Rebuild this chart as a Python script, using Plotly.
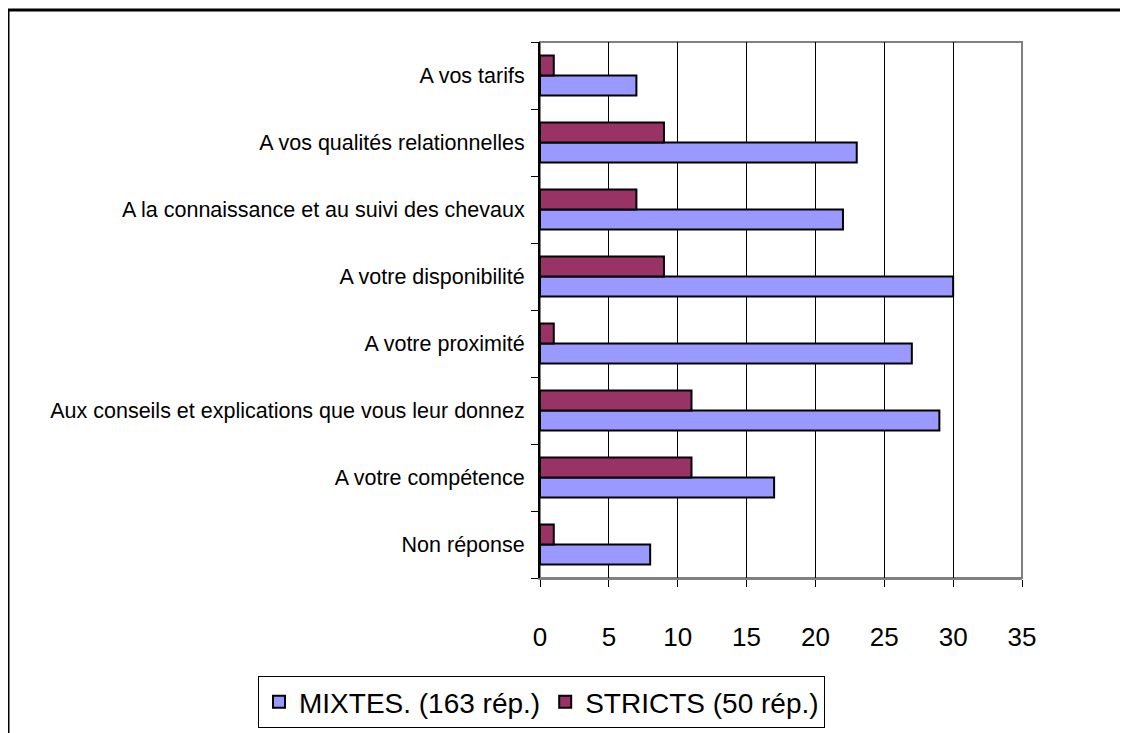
import plotly.graph_objects as go

categories = [
    "Non réponse",
    "A votre compétence",
    "Aux conseils et explications que vous leur donnez",
    "A votre proximité",
    "A votre disponibilité",
    "A la connaissance et au suivi des chevaux",
    "A vos qualités relationnelles",
    "A vos tarifs",
]
mixtes = [8, 17, 29, 27, 30, 22, 23, 7]
stricts = [1, 11, 11, 1, 9, 7, 9, 1]
x_ticks = [0, 5, 10, 15, 20, 25, 30, 35]

fig = go.Figure()
fig.add_trace(go.Bar(
    y=categories, x=mixtes, orientation="h", name="MIXTES. (163 rép.)",
    marker=dict(color="#9999FF", line=dict(color="black", width=2)),
))
fig.add_trace(go.Bar(
    y=categories, x=stricts, orientation="h", name="STRICTS (50 rép.)",
    marker=dict(color="#993366", line=dict(color="black", width=2)),
))

OFF = 8  # browser body margin
W, H = 1128 - OFF, 733 - OFF
L, R, T, B = 540 - OFF, 1022 - OFF, 42 - OFF, 578 - OFF
pw, ph = R - L, B - T

fig.update_layout(
    width=W, height=H,
    margin=dict(l=L, r=W - R, t=T, b=H - B, autoexpand=False),
    paper_bgcolor="white", plot_bgcolor="white",
    barmode="group", bargap=0.4, bargroupgap=0,
    font=dict(family="Liberation Sans, Arial, sans-serif", color="black"),
    showlegend=True,
    legend=dict(
        orientation="h",
        x=(258 - OFF - L) / pw, xanchor="left",
        y=(B - (676 - OFF)) / ph, yanchor="top",
        bordercolor="black", borderwidth=1,
        font=dict(size=28), traceorder="normal",
        tracegroupgap=0,
    ),
    xaxis=dict(
        range=[0, 35], tickvals=x_ticks, ticktext=[str(v) for v in x_ticks],
        showgrid=True, gridcolor="black", gridwidth=1,
        showline=True, linecolor="#808080", linewidth=2,
        ticks="outside", ticklen=7, tickcolor="black",
        tickfont=dict(size=26), ticklabelstandoff=28,
        zeroline=False, fixedrange=True,
    ),
    yaxis=dict(
        showline=True, linecolor="black", linewidth=2,
        ticks="outside", ticklen=7, tickcolor="black", tickson="boundaries",
        tickfont=dict(size=21.5), showgrid=False, ticklabelstandoff=9,
        fixedrange=True,
    ),
    shapes=[
        dict(type="rect", xref="paper", yref="paper", x0=0, x1=1, y0=0, y1=1,
             line=dict(color="#808080", width=2), layer="below"),
        dict(type="rect", xref="paper", yref="paper",
             x0=(8 - OFF - L) / pw, x1=(1200 - L) / pw,
             y0=(B - 800) / ph, y1=(B - (10 - OFF)) / ph,
             line=dict(color="black", width=3), layer="below"),
    ],
)

fig.write_html("out.html")
